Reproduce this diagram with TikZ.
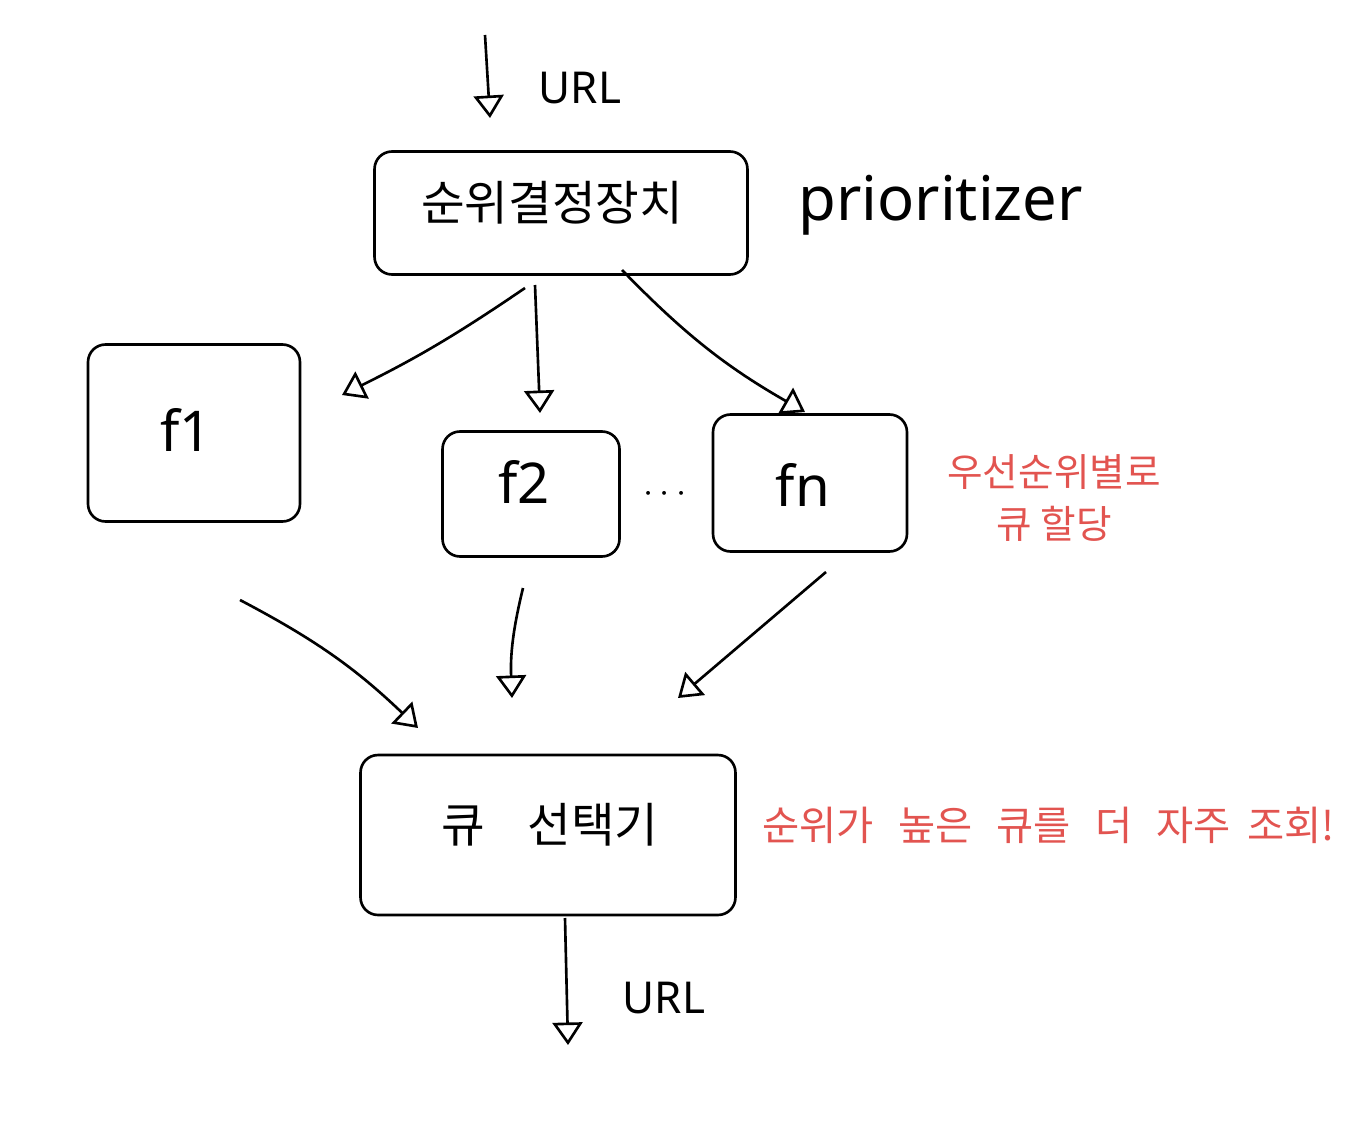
\documentclass[tikz,border=0pt]{standalone}
\usepackage{fontspec}
\setmainfont{Noto Sans}
\newfontfamily\kr{Noto Sans CJK KR}
\usetikzlibrary{arrows.meta}
\definecolor{redpen}{RGB}{226,84,80}
\tikzset{
  ink/.style={line width=1.5pt, draw=black},
  box/.style={ink, rectangle, rounded corners=0.35cm, inner sep=0pt},
  flow/.style={ink, -{Triangle[open, length=0.45cm, width=0.6cm, line width=1.5pt]}},
  lbl/.style={inner sep=0pt, text=black},
  note/.style={inner sep=0pt, text=redpen, font=\kr\fontsize{22}{26}\selectfont, align=center},
}
\begin{document}
\begin{tikzpicture}[x=0.02cm, y=-0.02cm]
\useasboundingbox (0,0) rectangle (1366,1122);

% boxes
\node[box, minimum width=7.46cm, minimum height=2.46cm] (p) at (561,213) {};
\node[lbl, font=\kr\fontsize{27}{31}\selectfont] (ptext) at (552,203) {순위결정장치};
\node[lbl, font=\fontsize{35}{40}\selectfont, anchor=west] (pname) at (798,205) {prioritizer};

\node[box, minimum width=4.24cm, minimum height=3.54cm] (f1) at (194,433) {};
\node[lbl, font=\fontsize{32}{38}\selectfont] (f1t) at (186,430) {f1};

\node[box, minimum width=3.54cm, minimum height=2.5cm] (f2) at (531,494) {};
\node[lbl, font=\fontsize{32}{38}\selectfont] (f2t) at (524,482) {f2};

\node[lbl, font=\fontsize{22}{26}\selectfont] (dots) at (665,494) {$\cdots$};

\node[box, minimum width=3.88cm, minimum height=2.74cm] (fn) at (810,483) {};
\node[lbl, font=\fontsize{32}{38}\selectfont] (fnt) at (803,485) {fn};

\node[note] (n1) at (1054,498) {우선순위별로\\[4pt]큐 할당};

\node[box, minimum width=7.5cm, minimum height=3.2cm] (q) at (548,835) {};
\node[lbl, font=\kr\fontsize{27}{32}\selectfont] (qt) at (550,825) {큐\hspace{0.9em}선택기};

\node[note, anchor=west, font=\kr\fontsize{23}{27}\selectfont] (n2) at (762,825) {순위가\hspace{0.6em}높은\hspace{0.6em}큐를\hspace{0.6em}더\hspace{0.6em}자주\hspace{0.4em}조회!};

% URL labels
\node[lbl, font=\fontsize{25}{30}\selectfont] (u1) at (580,88) {URL};
\node[lbl, font=\fontsize{25}{30}\selectfont] (u2) at (664,998) {URL};

% connector endpoints
\coordinate (in0) at (485,35);
\coordinate (in1) at (490,118);
\coordinate (out0) at (565,918);
\coordinate (out1) at (568,1045);
\coordinate (a1s) at (525,288);
\coordinate (a1e) at (342,395);
\coordinate (a2s) at (535,285);
\coordinate (a2e) at (540,413);
\coordinate (a3s) at (622,270);
\coordinate (a3e) at (805,412);
\coordinate (b1s) at (240,600);
\coordinate (b1e) at (418,728);
\coordinate (b2s) at (523,588);
\coordinate (b2e) at (512,698);
\coordinate (b3s) at (826,572);
\coordinate (b3e) at (678,698);

% connectors
\draw[flow] (in0) -- (in1);
\draw[flow] (out0) -- (out1);
\draw[flow] (a1s) to[bend left=4] (a1e);
\draw[flow] (a2s) -- (a2e);
\draw[flow] (a3s) to[bend right=8] (a3e);
\draw[flow] (b1s) to[bend left=8] (b1e);
\draw[flow] (b2s) to[bend right=8] (b2e);
\draw[flow] (b3s) -- (b3e);
\end{tikzpicture}
\end{document}
